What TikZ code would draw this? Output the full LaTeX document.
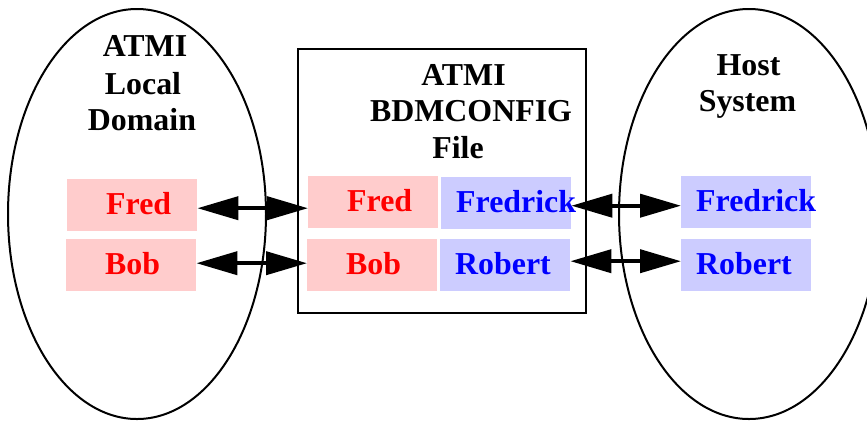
\documentclass[tikz,border=0pt]{standalone}
\usepackage{fontspec}
\setmainfont{Liberation Serif}
\usetikzlibrary{arrows.meta}
\definecolor{pinkfill}{HTML}{FFCCCC}
\definecolor{bluefill}{HTML}{CCCCFF}
\definecolor{redtxt}{HTML}{FF0000}
\definecolor{bluetxt}{HTML}{0000FF}
\tikzset{
  big/.style={font=\fontsize{32}{37}\selectfont\bfseries},
  title/.style={big, anchor=base, inner sep=0pt},
  namebox/.style={big, anchor=north west, inner ysep=0pt, inner xsep=0pt,
    minimum height=52bp, text width=130bp, align=left, text height=19bp, text depth=0bp},
  redbox/.style={namebox, fill=pinkfill, text=redtxt, execute at begin node=\hspace*{39bp}},
  bluebox/.style={namebox, fill=bluefill, text=bluetxt, execute at begin node=\hspace*{15bp}},
  dbl/.style={line width=4bp, {Triangle[length=41bp,width=23bp]}-{Triangle[length=41bp,width=23bp]}},
}
\begin{document}
\begin{tikzpicture}[x=1bp,y=-1bp]
\useasboundingbox (0,0) rectangle (867,421);
% containers
\draw[line width=2bp] (137,214) ellipse [x radius=129, y radius=205];
\draw[line width=2bp] (749,214) ellipse [x radius=130, y radius=205];
\draw[line width=2.5bp, fill=white] (298,49) rectangle (586,313);
% titles
\node[title] (t1) at (145,56) {ATMI};
\node[title] (t2) at (143,94) {Local};
\node[title] (t3) at (142,130) {Domain};
\node[title] (m1) at (463.5,85) {ATMI};
\node[title] (m2) at (471,121.5) {BDMCONFIG};
\node[title] (m3) at (458,158) {File};
\node[title] (h1) at (748.5,75) {Host};
\node[title] (h2) at (747.5,111) {System};
% name boxes
\node[redbox] (fredL) at (67,179) {Fred};
\node[redbox] (bobL) at (66,239) {Bob};
\node[redbox] (fredM) at (308,176) {Fred};
\node[bluebox] (fredrickM) at (441,177) {Fredrick};
\node[redbox] (bobM) at (307,239) {Bob};
\node[bluebox] (robertM) at (440,239) {Robert};
\node[bluebox] (fredrickR) at (681,176) {Fredrick};
\node[bluebox] (robertR) at (681,239) {Robert};
% arrows
\draw[dbl] ([yshift=-3bp]fredL.east) -- ([yshift=-3bp]fredL.east -| fredM.west);
\draw[dbl] ([yshift=2bp]bobL.east) -- ([yshift=2bp]bobL.east -| bobM.west);
\draw[dbl] ([yshift=-2.5bp]fredrickM.east) -- ([yshift=-2.5bp]fredrickM.east -| fredrickR.west);
\draw[dbl] ([yshift=4bp]robertM.east) -- ([yshift=4bp]robertM.east -| robertR.west);
\end{tikzpicture}
\end{document}
